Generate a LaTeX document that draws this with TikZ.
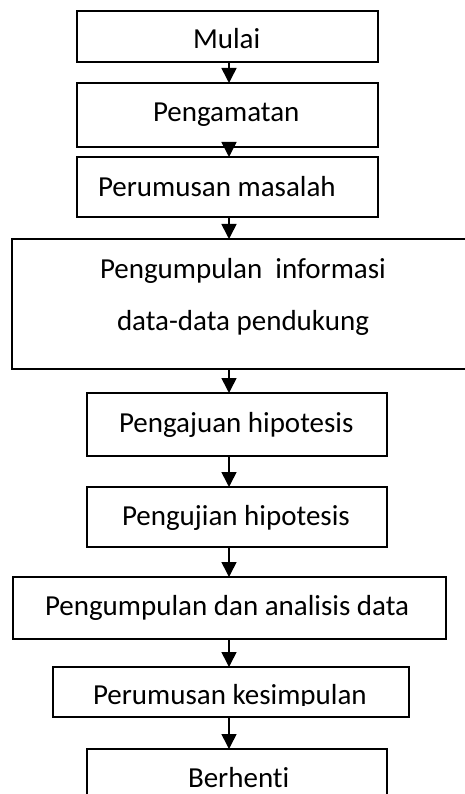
\documentclass[tikz,border=0pt]{standalone}
\usepackage{fontspec}
\setmainfont[Ligatures=NoCommon]{Carlito}
\usetikzlibrary{arrows.meta,calc}
\tikzset{
  box/.style={draw=black, line width=1.6pt, inner sep=0pt, outer sep=0pt, fill=none},
  lbl/.style={anchor=base west, inner sep=0pt, outer sep=0pt, font=\fontsize{29}{35}\selectfont},
  arr/.style={line width=1.6pt, -{Triangle[length=15pt,width=15pt]}}
}
\begin{document}
\begin{tikzpicture}[x=1pt,y=-1pt]
\useasboundingbox (0,0) rectangle (465,794);
\begin{scope}
\clip (0,0) rectangle (465,794);
\node[box, minimum width=301pt, minimum height=51pt] (b1) at (227.5,36.5) {};
\node[box, minimum width=301pt, minimum height=64pt] (b2) at (227.5,115) {};
\node[box, minimum width=301pt, minimum height=60pt] (b3) at (227.5,187) {};
\node[box, minimum width=463pt, minimum height=130pt] (b4) at (243.5,304) {};
\node[box, minimum width=300pt, minimum height=63pt] (b5) at (237,424.5) {};
\node[box, minimum width=300pt, minimum height=60pt] (b6) at (237,517) {};
\node[box, minimum width=433pt, minimum height=62pt] (b7) at (229.5,608) {};
\node[box, minimum width=356pt, minimum height=50pt] (b8) at (231,692) {};
\node[box, minimum width=300pt, minimum height=61pt] (b9) at (237,779.5) {};

\coordinate (ax) at (229,0);
\draw[arr] (b1.south -| ax) -- (b2.north -| ax);
\draw[arr] (b2.south -| ax) -- (b3.north -| ax);
\draw[arr] (b3.south -| ax) -- (b4.north -| ax);
\draw[arr] (b4.south -| ax) -- (b5.north -| ax);
\draw[arr] (b5.south -| ax) -- (b6.north -| ax);
\draw[arr] (b6.south -| ax) -- (b7.north -| ax);
\draw[arr] (b7.south -| ax) -- (b8.north -| ax);
\draw[arr] (b8.south -| ax) -- (b9.north -| ax);

\node[lbl] (t1) at (193,49) {Mulai};
\node[lbl] (t2) at (153,122) {Pengamatan};
\node[lbl] (t3) at (98,197) {Perumusan masalah};
\node[lbl] (t4a) at (100,278) {Pengumpulan~ informasi};
\node[lbl] (t4b) at (117,330) {data-data pendukung};
\node[lbl] (t5) at (119,432) {Pengajuan hipotesis};
\node[lbl] (t6) at (122,525) {Pengujian hipotesis};
\node[lbl] (t7) at (45,615) {Pengumpulan dan analisis data};
\begin{scope}
\clip (53,667) rectangle (409,705.5);
\node[lbl] (t8) at (93,704) {Perumusan kesimpulan};
\end{scope}
\node[lbl] (t9) at (188,787) {Berhenti};
\end{scope}
\end{tikzpicture}
\end{document}
